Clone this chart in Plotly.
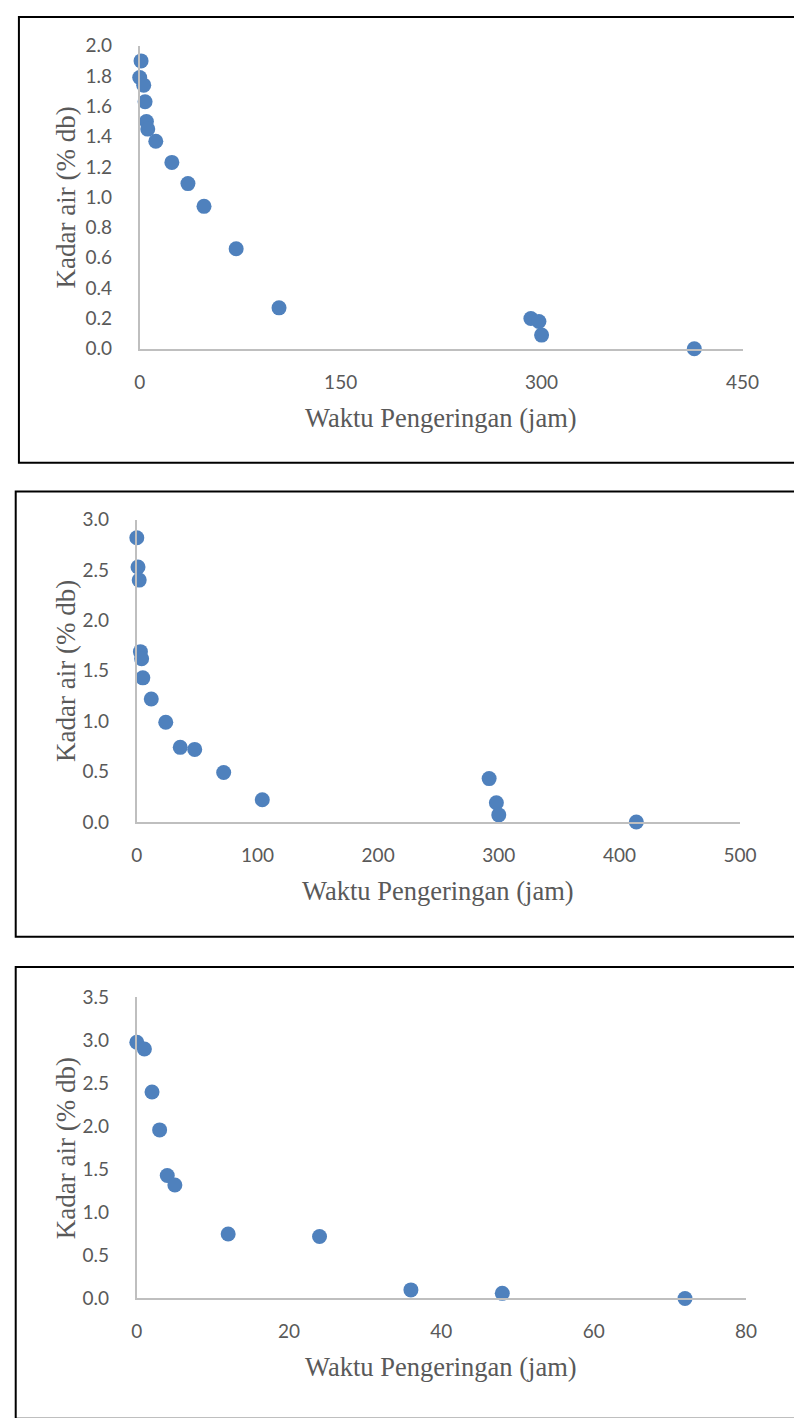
import plotly.graph_objects as go

W, H = 794, 1418

# ---- data ----
time_1 = [0, 1, 3, 4, 5, 6, 12, 24, 36, 48, 72, 104, 292, 298, 300, 414]
moist_1 = [1.79, 1.90, 1.74, 1.63, 1.50, 1.45, 1.37, 1.23, 1.09, 0.94, 0.66, 0.27, 0.20, 0.18, 0.09, 0.00]

time_2 = [0, 1, 2, 3, 4, 5, 12, 24, 36, 48, 72, 104, 292, 298, 300, 414]
moist_2 = [2.82, 2.53, 2.40, 1.69, 1.62, 1.43, 1.22, 0.99, 0.74, 0.72, 0.49, 0.22, 0.43, 0.19, 0.07, 0.00]

time_3 = [0, 1, 2, 3, 4, 5, 12, 24, 36, 48, 72]
moist_3 = [2.98, 2.90, 2.40, 1.96, 1.43, 1.32, 0.75, 0.72, 0.10, 0.06, 0.00]

x_title = "Waktu Pengeringan (jam)"
y_title = "Kadar air (% db)"

x_ranges = [[0, 450], [0, 500], [0, 80]]
x_dticks = [150, 100, 20]
y_ranges = [[0, 2.0], [0, 3.0], [0, 3.5]]
y_dticks = [0.2, 0.5, 0.5]

# ---- layout geometry (pixels) ----
plot_boxes = [  # (left, right, top, bottom) in px
    (137.7, 758.5, 34.3, 342.3),
    (134.7, 756.0, 516.0, 823.3),
    (134.7, 762.0, 1001.7, 1307.7),
]
frames = [  # (left, top, bottom) in px
    (13.3, 5.0, 458.3),
    (10.0, 487.3, 940.0),
    (10.0, 970.7, 1430.0),
]

def px_x(v):
    return v / W

def px_y(v):
    return 1 - v / H

MARKER = "#4F81BD"
TXT = "#595959"
AXIS = "#BFBFBF"

fig = go.Figure()
series = [(time_1, moist_1), (time_2, moist_2), (time_3, moist_3)]
annotations = []
shapes = []
for i, (xs, ys) in enumerate(series):
    n = "" if i == 0 else str(i + 1)
    fig.add_trace(go.Scatter(
        x=xs, y=ys, mode="markers",
        marker=dict(color=MARKER, size=15, line=dict(width=0)),
        xaxis="x" + n, yaxis="y" + n, cliponaxis=False, showlegend=False,
    ))
    l, r, t, b = plot_boxes[i]
    common = dict(showgrid=False, zeroline=False, showline=True,
                  linecolor=AXIS, linewidth=2, ticks="",
                  tickfont=dict(family="Lato", size=19, color=TXT))
    fig.layout["xaxis" + n] = dict(
        domain=[px_x(l), px_x(r)], range=x_ranges[i], dtick=x_dticks[i], tick0=0,
        anchor="y" + n, ticklabelstandoff=15, **common)
    fig.layout["yaxis" + n] = dict(
        domain=[px_y(b), px_y(t)], range=y_ranges[i], dtick=y_dticks[i], tick0=0,
        tickformat=".1f", anchor="x" + n, ticklabelstandoff=22, **common)
    annotations.append(dict(
        text=x_title, x=px_x((l + r) / 2), y=px_y(b + 70), xref="paper", yref="paper",
        xanchor="center", yanchor="middle", showarrow=False,
        font=dict(family="Liberation Serif", size=26.5, color=TXT)))
    annotations.append(dict(
        text=y_title, x=px_x(62), y=px_y((t + b) / 2), xref="paper", yref="paper",
        xanchor="center", yanchor="middle", showarrow=False, textangle=-90,
        font=dict(family="Liberation Serif", size=27, color=TXT)))
    fl, ft, fb = frames[i]
    shapes.append(dict(type="rect", xref="paper", yref="paper",
                       x0=px_x(fl), x1=px_x(820), y0=px_y(fb), y1=px_y(ft),
                       line=dict(color="black", width=2), fillcolor="rgba(0,0,0,0)",
                       layer="above"))

fig.update_layout(
    width=W, height=H, margin=dict(l=0, r=0, t=0, b=0),
    paper_bgcolor="white", plot_bgcolor="white",
    annotations=annotations, shapes=shapes, showlegend=False,
)

fig.write_html("out.html", config={"displayModeBar": False})
